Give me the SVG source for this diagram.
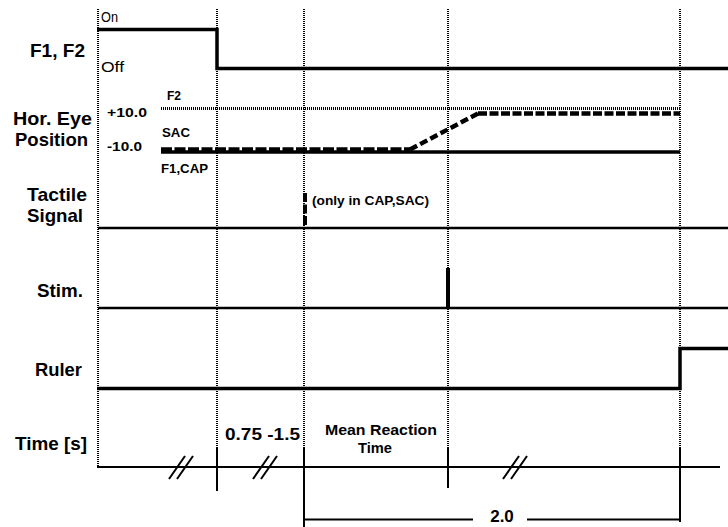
<svg xmlns="http://www.w3.org/2000/svg" width="728" height="527" viewBox="0 0 728 527">
<style>
text{font-family:"Liberation Sans",Arial,Helvetica,sans-serif;fill:#000}
.lbl{font-size:18.5px;font-weight:bold}
.sm{font-size:12px;font-weight:bold}
.val{font-size:13px;font-weight:bold}
.onoff{font-size:14.5px}
.mid{font-size:14px;font-weight:bold}
.big{font-size:17px;font-weight:bold}
.grid{stroke:#000;stroke-width:2;stroke-dasharray:1 1;fill:none}
.sig{stroke:#000;fill:none;stroke-linecap:butt}
.ax{stroke:#000;stroke-width:2;fill:none}
</style>
<rect width="728" height="527" fill="#fff"/>
<g id="gridlines">
<line class="grid" x1="98" y1="9" x2="98" y2="467"/>
<line class="grid" x1="217" y1="9" x2="217" y2="448"/>
<line class="grid" x1="304" y1="9" x2="304" y2="448"/>
<line class="grid" x1="448" y1="9" x2="448" y2="448"/>
<line class="grid" x1="680" y1="9" x2="680" y2="448"/>
</g>
<g id="labels">
<text class="lbl" x="30" y="57" textLength="55" lengthAdjust="spacingAndGlyphs">F1, F2</text>
<text class="lbl" x="13" y="125" textLength="79" lengthAdjust="spacingAndGlyphs">Hor. Eye</text>
<text class="lbl" x="15" y="146" textLength="73" lengthAdjust="spacingAndGlyphs">Position</text>
<text class="lbl" x="27" y="201" textLength="60" lengthAdjust="spacingAndGlyphs">Tactile</text>
<text class="lbl" x="27" y="222" textLength="56" lengthAdjust="spacingAndGlyphs">Signal</text>
<text class="lbl" x="37" y="297" textLength="46" lengthAdjust="spacingAndGlyphs">Stim.</text>
<text class="lbl" x="35" y="376" textLength="47" lengthAdjust="spacingAndGlyphs">Ruler</text>
<text class="lbl" x="15" y="450" textLength="72" lengthAdjust="spacingAndGlyphs">Time [s]</text>
</g>
<g id="f1f2">
<text class="onoff" x="101" y="22" textLength="17" lengthAdjust="spacingAndGlyphs">On</text>
<text class="onoff" x="101" y="72" textLength="23" lengthAdjust="spacingAndGlyphs">Off</text>
<polyline class="sig" stroke-width="3.5" points="97,29.5 217,29.5 217,68.5 728,68.5"/>
</g>
<g id="eye">
<text class="val" x="107" y="117" textLength="40" lengthAdjust="spacingAndGlyphs">+10.0</text>
<text class="val" x="107" y="151" textLength="35" lengthAdjust="spacingAndGlyphs">-10.0</text>
<text class="sm" x="167" y="100">F2</text>
<text class="sm" x="162" y="137" textLength="28" lengthAdjust="spacingAndGlyphs">SAC</text>
<text class="sm" x="161" y="173" textLength="47" lengthAdjust="spacingAndGlyphs">F1,CAP</text>
<line class="sig" x1="161" y1="108.5" x2="680" y2="108.5" stroke-width="3" stroke-dasharray="1 1"/>
<line class="sig" x1="161" y1="152" x2="680" y2="152" stroke-width="3.5"/>
<line class="sig" x1="161" y1="149.5" x2="410" y2="149.5" stroke-width="4.5" stroke-dasharray="11 2.5"/>
<line class="sig" x1="410" y1="149.5" x2="478" y2="113.5" stroke-width="4.5" stroke-dasharray="8 3.5"/>
<line class="sig" x1="478" y1="113.5" x2="680" y2="113.5" stroke-width="4.5" stroke-dasharray="9 2.5"/>
</g>
<g id="tactile">
<line class="sig" x1="98" y1="228" x2="728" y2="228" stroke-width="2.5"/>
<line class="sig" x1="305" y1="193" x2="305" y2="228" stroke-width="4" stroke-dasharray="9 2.5"/>
<text class="val" x="312" y="205" textLength="117" lengthAdjust="spacingAndGlyphs" style="font-size:12.5px">(only in CAP,SAC)</text>
</g>
<g id="stim">
<line class="sig" x1="98" y1="308" x2="728" y2="308" stroke-width="2.5"/>
<line class="sig" x1="448" y1="268" x2="448" y2="308" stroke-width="4"/>
</g>
<g id="ruler">
<polyline class="sig" stroke-width="3.5" points="97,388.5 680,388.5 680,348.5 728,348.5"/>
</g>
<g id="timeaxis">
<line class="ax" x1="97" y1="467" x2="720" y2="467"/>
<line class="ax" x1="217" y1="448" x2="217" y2="491"/>
<line class="ax" x1="304" y1="448" x2="304" y2="527"/>
<line class="ax" x1="448" y1="448" x2="448" y2="488"/>
<line class="ax" x1="680" y1="448" x2="680" y2="522"/>
<line class="ax" x1="169" y1="479" x2="185" y2="456"/>
<line class="ax" x1="177" y1="479" x2="193" y2="456"/>
<line class="ax" x1="253" y1="479" x2="269" y2="456"/>
<line class="ax" x1="261" y1="479" x2="277" y2="456"/>
<line class="ax" x1="503" y1="479" x2="519" y2="456"/>
<line class="ax" x1="511" y1="479" x2="527" y2="456"/>
<line class="ax" x1="304" y1="519.5" x2="473" y2="519.5"/>
<line class="ax" x1="527" y1="519.5" x2="680" y2="519.5"/>
<text class="big" x="225" y="440" textLength="75" lengthAdjust="spacingAndGlyphs">0.75 -1.5</text>
<text class="mid" x="325" y="435" textLength="112" lengthAdjust="spacingAndGlyphs">Mean Reaction</text>
<text class="mid" x="358" y="453" textLength="34" lengthAdjust="spacingAndGlyphs">Time</text>
<text class="big" x="502" y="522" text-anchor="middle">2.0</text>
</g>
</svg>
